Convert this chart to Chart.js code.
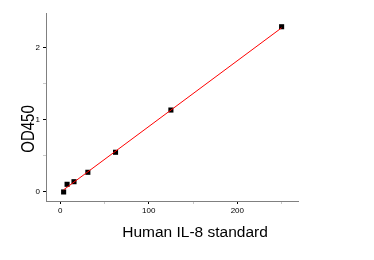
<!DOCTYPE html>
<html>
<head>
<meta charset="utf-8">
<script src="https://cdn.jsdelivr.net/npm/chart.js@4"></script>
<style>
  html, body { margin: 0; padding: 0; background: #ffffff; }
  #wrap { width: 374px; height: 260px; position: relative; }
</style>
</head>
<body>
<div id="wrap"><canvas id="c" width="374" height="260"></canvas></div>
<script>
// ---- data ----
const concentrations = [3.9, 7.8, 15.6, 31.25, 62.5, 125, 250];
const odValues = [0.0, 0.106, 0.142, 0.272, 0.549, 1.133, 2.285];
const fitX = [3.9, 250];
const fitY = [0.03, 2.27];
const xTickValues = [0, 50, 100, 150, 200, 250];
const xTickLabels = ['0', '', '100', '', '200', ''];
const yTickValues = [0, 0.5, 1, 1.5, 2];
const yTickLabels = ['0', '', '1', '', '2'];
const xTitle = 'Human IL-8 standard';
const yTitle = 'OD450';

const FONT = '"Liberation Sans", Arial, sans-serif';

const titlePlugin = {
  id: 'axisTitles',
  afterDraw(chart) {
    const ctx = chart.ctx;
    ctx.save();
    ctx.fillStyle = '#000';
    ctx.font = '15.5px ' + FONT;
    ctx.textAlign = 'center';
    ctx.textBaseline = 'alphabetic';
    ctx.fillText(xTitle, 195, 237);
    ctx.restore();

    ctx.save();
    ctx.fillStyle = '#000';
    ctx.font = '15px ' + FONT;
    ctx.textAlign = 'center';
    ctx.textBaseline = 'alphabetic';
    ctx.translate(34, 129);
    ctx.rotate(-Math.PI / 2);
    ctx.scale(1, 1.28);
    ctx.fillText(yTitle, 0, 0);
    ctx.restore();
  }
};

new Chart(document.getElementById('c'), {
  type: 'scatter',
  data: {
    datasets: [
      {
        label: 'fit',
        data: fitX.map((x, i) => ({ x: x, y: fitY[i] })),
        showLine: true,
        borderColor: '#ff0000',
        borderWidth: 1,
        pointRadius: 0,
        order: 0
      },
      {
        label: 'standard',
        data: concentrations.map((x, i) => ({ x: x, y: odValues[i] })),
        pointStyle: 'rect',
        pointRadius: 3.6,
        backgroundColor: '#000000',
        borderColor: '#000000',
        borderWidth: 0,
        order: 1
      }
    ]
  },
  options: {
    responsive: false,
    animation: false,
    devicePixelRatio: 1,
    layout: { padding: { left: 0, top: 13, right: 76, bottom: 0 } },
    plugins: { legend: { display: false }, tooltip: { enabled: false } },
    scales: {
      x: {
        type: 'linear',
        min: -16,
        max: 268.5,
        afterFit(s) { s.height = 59; },
        afterBuildTicks(s) { s.ticks = xTickValues.map(v => ({ value: v })); },
        border: { display: true, color: '#808080', width: 1 },
        grid: {
          drawOnChartArea: false,
          drawTicks: true,
          tickLength: 3,
          tickColor: (c) => (c.index % 2 === 0 ? '#000000' : '#c8c8c8')
        },
        ticks: {
          padding: 2,
          maxRotation: 0,
          autoSkip: false,
          color: '#000',
          font: { family: FONT, size: 8 },
          callback: (v, i) => xTickLabels[i]
        }
      },
      y: {
        type: 'linear',
        min: -0.125,
        max: 2.475,
        afterFit(s) { s.width = 46; },
        afterBuildTicks(s) { s.ticks = yTickValues.map(v => ({ value: v })); },
        border: { display: true, color: '#808080', width: 1 },
        grid: {
          drawOnChartArea: false,
          drawTicks: true,
          tickLength: 3,
          tickColor: (c) => (c.index % 2 === 0 ? '#000000' : '#c8c8c8')
        },
        ticks: {
          padding: 3,
          autoSkip: false,
          color: '#000',
          font: { family: FONT, size: 8 },
          callback: (v, i) => yTickLabels[i]
        }
      }
    }
  },
  plugins: [titlePlugin]
});
</script>
</body>
</html>
